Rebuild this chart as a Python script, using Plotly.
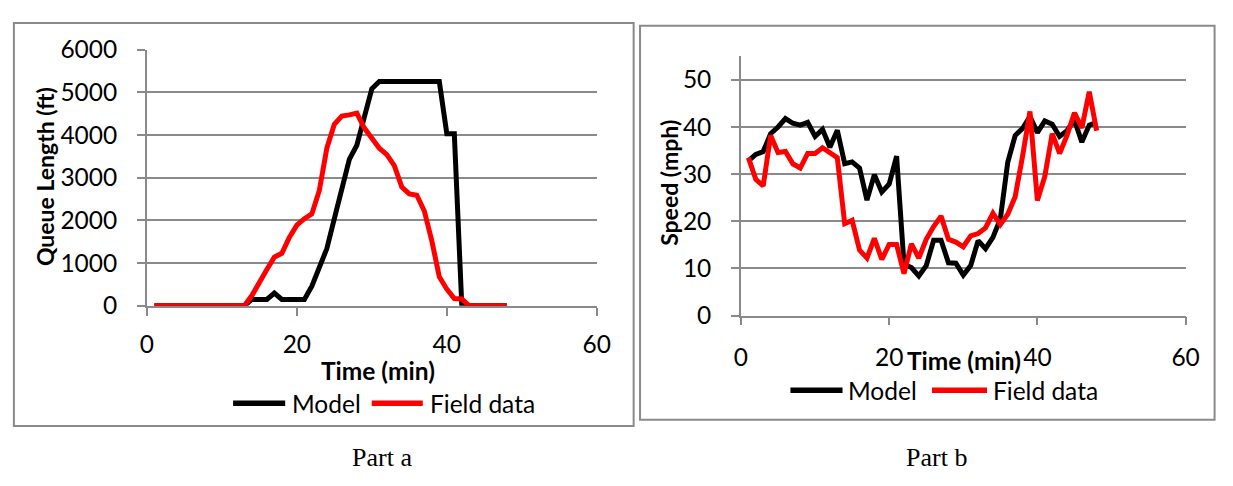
import plotly.graph_objects as go

# ---------------- data ----------------
minutes = list(range(1, 49))

queue_model = [0, 0, 0, 0, 0, 0, 0, 0, 0, 0, 0, 0, 0, 150, 150, 150, 300, 150, 150, 150,
               150, 460, 900, 1340, 2040, 2770, 3430, 3760, 4380, 5080, 5250, 5250, 5250, 5250,
               5250, 5250, 5250, 5250, 5250, 4030, 4030, 0, 0, 0, 0, 0, 0, 0]
queue_field = [0, 0, 0, 0, 0, 0, 0, 0, 0, 0, 0, 0, 0, 240, 570, 850, 1140, 1230, 1600, 1890,
               2040, 2150, 2700, 3690, 4250, 4440, 4470, 4510, 4160, 3900, 3690, 3540, 3280, 2780,
               2620, 2590, 2220, 1520, 680, 390, 170, 160, 0, 0, 0, 0, 0, 0]

speed_model = [32.8, 34.2, 34.8, 38.6, 40.0, 41.8, 40.8, 40.4, 41.0, 38.0, 39.5, 35.7, 39.3, 32.2,
               32.6, 31.3, 24.5, 29.9, 26.2, 27.9, 33.8, 10.9, 10.2, 8.4, 10.6, 16.0, 16.0, 11.2,
               11.1, 8.6, 10.6, 15.9, 14.2, 16.6, 20.5, 32.5, 38.2, 39.7, 42.2, 38.8, 41.3, 40.6,
               38.0, 39.2, 41.5, 36.8, 40.4, 41.0]
speed_field = [33.5, 28.9, 27.5, 38.2, 34.6, 34.8, 32.2, 31.3, 34.4, 34.4, 35.6, 34.4, 33.5, 19.5,
               20.2, 13.9, 12.2, 16.4, 11.9, 15.1, 15.1, 8.9, 15.2, 12.2, 16.2, 18.9, 21.1, 16.2,
               15.6, 14.6, 16.9, 17.4, 18.6, 21.7, 19.3, 21.5, 25.2, 33.8, 43.3, 24.4, 29.5, 38.6,
               34.4, 38.2, 43.0, 39.8, 47.5, 39.2]

series_names = ["Model", "Field data"]
series_colors = ["#000000", "#FF0000"]

x_ticks = [0, 20, 40, 60]
queue_ticks = [0, 1000, 2000, 3000, 4000, 5000, 6000]
speed_ticks = [0, 10, 20, 30, 40, 50]

# ---------------- figure ----------------
W, H = 1233, 486
GRAY = "#8a8a8a"
FONT = "Lato"


def px(x):
    return x / W


def py(y):
    return 1 - y / H


fig = go.Figure()

for vals, name, col in zip([queue_model, queue_field], series_names, series_colors):
    fig.add_trace(go.Scatter(x=minutes, y=vals, mode="lines", name=name,
                             line=dict(color=col, width=5), xaxis="x", yaxis="y",
                             showlegend=False))
for vals, name, col in zip([speed_model, speed_field], series_names, series_colors):
    fig.add_trace(go.Scatter(x=minutes, y=vals, mode="lines", name=name,
                             line=dict(color=col, width=5), xaxis="x2", yaxis="y2",
                             showlegend=False))

axis_common = dict(
    showline=True, linecolor=GRAY, linewidth=1.5,
    ticks="outside", ticklen=8, tickcolor=GRAY, tickwidth=1.5,
    tickfont=dict(family=FONT, size=24.5, color="black"),
    zeroline=False, fixedrange=True,
)

fig.update_layout(
    width=W, height=H,
    margin=dict(l=0, r=0, t=0, b=0),
    paper_bgcolor="white", plot_bgcolor="white",
    showlegend=False,
    xaxis=dict(domain=[px(142.3), px(600)], range=[0, 60], tickvals=x_ticks,
               showgrid=False, anchor="y", ticklabelstandoff=8, **axis_common),
    yaxis=dict(domain=[py(309.3), py(36.7)], range=[0, 6000], tickvals=queue_ticks,
               showgrid=True, gridcolor=GRAY, gridwidth=1.5, anchor="x",
               ticklabelstandoff=15, **axis_common),
    xaxis2=dict(domain=[px(746.7), px(1199)], range=[0, 60], tickvals=x_ticks,
                showgrid=False, anchor="y2", ticklabelstandoff=11, **axis_common),
    yaxis2=dict(domain=[py(319.7), py(43.9)], range=[0, 55], tickvals=speed_ticks,
                showgrid=True, gridcolor=GRAY, gridwidth=1.5, anchor="x2",
                ticklabelstandoff=15, **axis_common),
)

# chart boxes
for x0, y0, x1, y1 in [(7, 8.5, 637.5, 437), (644, 11.5, 1228.5, 430.5)]:
    fig.add_shape(type="rect", xref="paper", yref="paper",
                  x0=px(x0), x1=px(x1), y0=py(y1), y1=py(y0),
                  line=dict(color=GRAY, width=2), fillcolor="rgba(0,0,0,0)", layer="below")

ann = []
# axis titles
ann.append(dict(text="<b>Queue Length (ft)</b>", x=px(38), y=py(172), textangle=-90,
                font=dict(family=FONT, size=23, color="black")))
ann.append(dict(text="<b>Time (min)</b>", x=px(377), y=py(378),
                font=dict(family=FONT, size=24.5, color="black")))
ann.append(dict(text="<b>Speed (mph)</b>", x=px(674), y=py(179), textangle=-90,
                font=dict(family=FONT, size=23, color="black")))
ann.append(dict(text="<b>Time (min)</b>", x=px(974), y=py(367),
                font=dict(family=FONT, size=24.5, color="black")))

# legends (manual, to match swatch length)
legend_specs = [
    (413, [(230, 283, 288), (371, 423, 428)]),
    (399, [(797, 850, 854), (941, 997, 1001)]),
]
for ly, items in legend_specs:
    for (lx0, lx1, tx), name, col in zip(items, series_names, series_colors):
        fig.add_shape(type="line", xref="paper", yref="paper",
                      x0=px(lx0), x1=px(lx1), y0=py(ly), y1=py(ly),
                      line=dict(color=col, width=5.5))
        ann.append(dict(text=name, x=px(tx), y=py(ly), xanchor="left",
                        font=dict(family=FONT, size=24.5, color="black")))

# captions
ann.append(dict(text="Part a", x=px(381), y=py(471),
                font=dict(family="Liberation Serif", size=26, color="black")))
ann.append(dict(text="Part b", x=px(946), y=py(471),
                font=dict(family="Liberation Serif", size=26, color="black")))

for a in ann:
    a.setdefault("xanchor", "center")
    a.update(xref="paper", yref="paper", yanchor="middle", showarrow=False)
    fig.add_annotation(**a)

fig.write_html("out.html")
